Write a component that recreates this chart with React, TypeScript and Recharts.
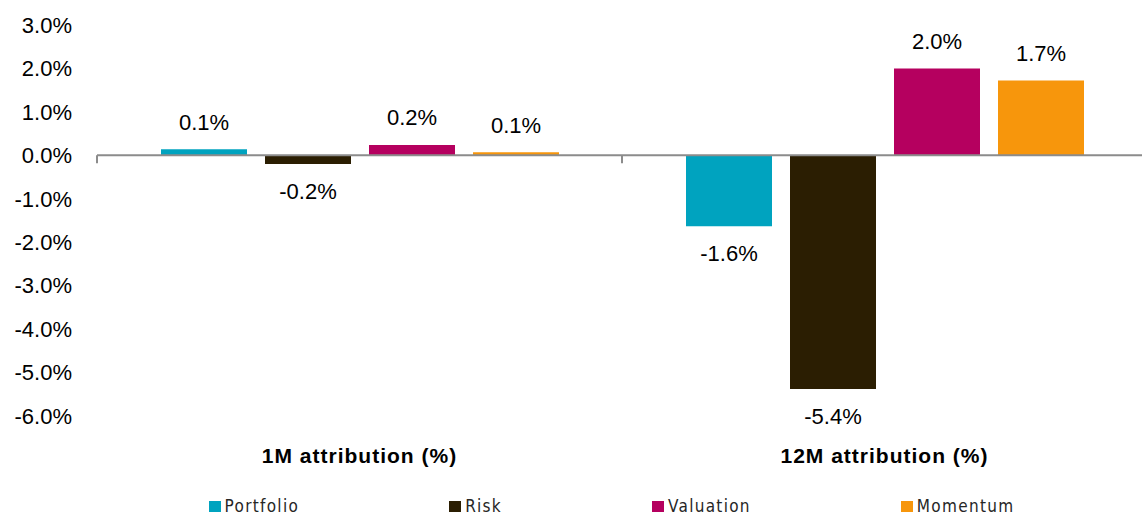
import React from 'react';
import { BarChart, Bar, XAxis, YAxis, Legend, ReferenceLine, LabelList } from 'recharts';

const categories = ['1M attribution (%)', '12M attribution (%)'];
const portfolio = [0.14, -1.63];
const risk = [-0.2, -5.38];
const valuation = [0.24, 2.0];
const momentum = [0.07, 1.72];
const yTicks = [3, 2, 1, 0, -1, -2, -3, -4, -5, -6];

const series = [
  { key: 'portfolio', name: 'Portfolio', color: '#00A3BF' },
  { key: 'risk', name: 'Risk', color: '#2B1E02' },
  { key: 'valuation', name: 'Valuation', color: '#B5005F' },
  { key: 'momentum', name: 'Momentum', color: '#F7960C' },
];

const data = categories.map((c, i) => ({
  category: c,
  portfolio: portfolio[i],
  risk: risk[i],
  valuation: valuation[i],
  momentum: momentum[i],
}));

const FONT = "'Liberation Sans', Arial, sans-serif";

function ValueLabel(props: any) {
  const { x, y, width, value } = props;
  const dy = value >= 0 ? -27 : 27;
  return (
    <text x={x + width / 2} y={y + dy} textAnchor="middle" dominantBaseline="central"
      fontFamily={FONT} fontSize={22} fill="#000">
      {value.toFixed(1)}%
    </text>
  );
}

function CategoryTick(props: any) {
  const { x, y, payload } = props;
  return (
    <text x={x} y={y + 37} textAnchor="middle" dominantBaseline="central"
      fontFamily={FONT} fontSize={21} fontWeight="bold" letterSpacing={1} fill="#000">
      {payload.value}
    </text>
  );
}

// zero line with small category separators hanging below it
function ZeroLine(props: any) {
  const { x1, x2, y1 } = props;
  const mid = (x1 + x2) / 2;
  const d = `M${x1},${y1}H${x2}M${x1},${y1}v8M${mid},${y1}v8M${x2},${y1}v8`;
  return <path d={d} stroke="#8c8c8c" strokeWidth={2} fill="none" />;
}

function LegendContent() {
  return (
    <div style={{ display: 'flex', justifyContent: 'center', gap: 150, paddingTop: 12, paddingLeft: 76,
      fontFamily: "'Liberation Sans Narrow', 'DejaVu Sans Condensed', 'Roboto Condensed', sans-serif",
      fontSize: 17, letterSpacing: 1.3, lineHeight: '18px', color: '#262626' }}>
      {series.map((s) => (
        <div key={s.key} style={{ display: 'flex', alignItems: 'center' }}>
          <span style={{ width: 12, height: 11, background: s.color, marginRight: 4, display: 'inline-block' }} />
          {s.name}
        </div>
      ))}
    </div>
  );
}

export default function App() {
  return (
    <div style={{ position: 'absolute', left: 0, top: 0, background: '#fff' }}>
      <BarChart width={1142} height={515} data={data} margin={{ top: 25, right: -5, left: 0, bottom: 0 }}
        barSize={86} barGap={18}>
        <YAxis domain={[-6, 3]} ticks={yTicks} interval={0} width={97} axisLine={false} tickLine={false}
          tickSize={0} tickMargin={25} tickFormatter={(v: number) => `${v.toFixed(1)}%`}
          tick={{ fontFamily: FONT, fontSize: 22, fill: '#000' }} />
        <XAxis dataKey="category" height={69} axisLine={false} tickLine={false} tickSize={0}
          tick={<CategoryTick />} interval={0} />
        <ReferenceLine y={0} shape={<ZeroLine />} />
        {series.map((s) => (
          <Bar key={s.key} dataKey={s.key} name={s.name} fill={s.color} isAnimationActive={false}>
            <LabelList dataKey={s.key} content={<ValueLabel />} />
          </Bar>
        ))}
        <Legend verticalAlign="bottom" content={<LegendContent />} />
      </BarChart>
    </div>
  );
}
